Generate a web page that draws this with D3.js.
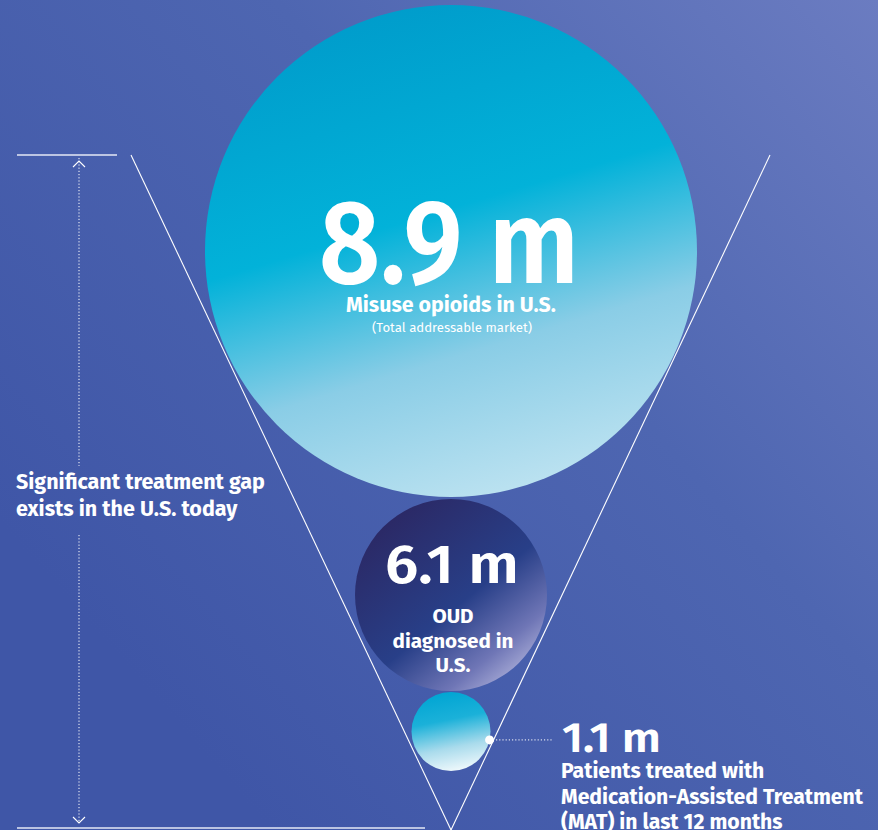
<!DOCTYPE html>
<html>
<head>
<meta charset="utf-8">
<script src="https://cdn.jsdelivr.net/npm/d3@7"></script>
<style>
  body { margin: 0; background: #4259a8; }
  svg { display: block; }
  text { font-family: "Fira Sans", "Noto Sans", sans-serif; fill: #fff; }
</style>
</head>
<body>
<div id="chart-area"></div>
<script>
// funnel data
var values = [8.9, 6.1, 1.1];
var valueLabels = ["8.9 m", "6.1 m", "1.1 m"];
var descriptions = [
    ["Misuse opioids in U.S."],
    ["OUD", "diagnosed in", "U.S."],
    ["Patients treated with", "Medication-Assisted Treatment", "(MAT) in last 12 months"]
];
var notes = ["(Total addressable market)", "", ""];
var gapLabel = ["Significant treatment gap", "exists in the U.S. today"];

var width = 878, height = 830;
var cx = 451;

var svg = d3.select("#chart-area")
    .append("svg")
    .attr("width", width)
    .attr("height", height);

var defs = svg.append("defs");

function gradient(id, x1, y1, x2, y2, stops) {
    var g = defs.append("linearGradient")
        .attr("id", id)
        .attr("x1", x1).attr("y1", y1)
        .attr("x2", x2).attr("y2", y2);
    stops.forEach(function(s) {
        g.append("stop").attr("offset", s[0]).attr("stop-color", s[1]);
    });
}

gradient("bg", 1, 0, 0.1, 0.75, [[0, "#6b7cc1"], [0.45, "#4e66b1"], [1, "#3f56a7"]]);
gradient("c0", 0.35, 0, 0.65, 1, [[0, "#009ccb"], [0.42, "#02b2d9"], [0.7, "#8acde6"], [1, "#bee3f1"]]);
gradient("c1", 0.25, 0.05, 0.95, 0.9, [[0, "#2b2966"], [0.52, "#283f88"], [0.8, "#6f76b6"], [1, "#b9bbe0"]]);
gradient("c2", 0.4, 0, 0.6, 1, [[0, "#00a5d3"], [0.35, "#1bb1d9"], [0.7, "#a9dbec"], [1, "#f0f9fc"]]);

svg.append("rect")
    .attr("width", width)
    .attr("height", height)
    .attr("fill", "url(#bg)");

// radius per value
var r = d3.scaleLinear()
    .domain([1.1, 6.1, 8.9])
    .range([39.5, 96, 246]);

// stack circles from the top
var yPos = 5, gaps = [0, 2, 1];
var circles = values.map(function(v, i) {
    yPos += gaps[i];
    var c = { value: v, r: r(v), cy: yPos + r(v), i: i };
    yPos += 2 * r(v);
    return c;
});

// funnel lines
var apex = [cx, height];
svg.append("g")
    .selectAll("line")
    .data([131, 770])
    .enter()
    .append("line")
    .attr("x1", d => d).attr("y1", 155)
    .attr("x2", apex[0]).attr("y2", apex[1])
    .attr("stroke", "#fff")
    .attr("stroke-width", 1.1);

svg.append("g")
    .selectAll("circle")
    .data(circles)
    .enter()
    .append("circle")
    .attr("cx", cx)
    .attr("cy", d => d.cy)
    .attr("r", d => d.r)
    .attr("fill", d => "url(#c" + d.i + ")");

// make the widest line of a block a given width
function fitBlock(sel, w) {
    var maxW = d3.max(sel.nodes(), n => n.getComputedTextLength());
    var fs = parseFloat(sel.attr("font-size"));
    sel.attr("font-size", fs * w / maxW);
}

// big circle
var c0 = circles[0];
svg.append("text")
    .attr("x", cx - 2).attr("y", c0.cy + 32)
    .attr("text-anchor", "middle")
    .attr("font-size", 118).attr("font-weight", 600)
    .attr("textLength", 260).attr("lengthAdjust", "spacingAndGlyphs")
    .text(valueLabels[0]);
var t0 = svg.append("text")
    .attr("x", cx).attr("y", c0.cy + 61)
    .attr("text-anchor", "middle")
    .attr("font-size", 20).attr("font-weight", 700)
    .text(descriptions[0][0]);
fitBlock(t0, 210);
var n0 = svg.append("text")
    .attr("x", cx + 1).attr("y", c0.cy + 81)
    .attr("text-anchor", "middle")
    .attr("font-size", 12).attr("font-weight", 400)
    .text(notes[0]);
fitBlock(n0, 160);

// middle circle
var c1 = circles[1];
svg.append("text")
    .attr("x", cx + 1).attr("y", c1.cy - 12)
    .attr("text-anchor", "middle")
    .attr("font-size", 54).attr("font-weight", 600)
    .attr("textLength", 134).attr("lengthAdjust", "spacingAndGlyphs")
    .text(valueLabels[1]);
var t1 = svg.append("g").selectAll("text")
    .data(descriptions[1])
    .enter()
    .append("text")
    .attr("x", cx + 2)
    .attr("y", (d, i) => c1.cy + 28 + i * 24.5)
    .attr("text-anchor", "middle")
    .attr("font-size", 19).attr("font-weight", 700)
    .text(d => d);
fitBlock(t1, 121);

// small circle with callout
var c2 = circles[2];
var ang = Math.atan2(8.5, 39);
var dot = [cx + c2.r * Math.cos(ang), c2.cy + c2.r * Math.sin(ang)];
svg.append("line")
    .attr("x1", dot[0]).attr("y1", dot[1])
    .attr("x2", 552).attr("y2", dot[1])
    .attr("stroke", "#fff")
    .attr("stroke-dasharray", "1.2,2")
    .attr("stroke-width", 1);
svg.append("circle")
    .attr("cx", dot[0]).attr("cy", dot[1])
    .attr("r", 4.5)
    .attr("fill", "#fff");

svg.append("text")
    .attr("x", 562).attr("y", 752)
    .attr("font-size", 41).attr("font-weight", 600)
    .attr("textLength", 99).attr("lengthAdjust", "spacingAndGlyphs")
    .text(valueLabels[2]);
var t2 = svg.append("g").selectAll("text")
    .data(descriptions[2])
    .enter()
    .append("text")
    .attr("x", 561)
    .attr("y", (d, i) => 778 + i * 25.5)
    .attr("font-size", 19).attr("font-weight", 700)
    .text(d => d);
fitBlock(t2, 302);

// treatment gap marker
var gap = svg.append("g");
gap.selectAll("line.rule")
    .data([[17, 117, 155], [17, 425, 828]])
    .enter()
    .append("line")
    .attr("class", "rule")
    .attr("x1", d => d[0]).attr("x2", d => d[1])
    .attr("y1", d => d[2]).attr("y2", d => d[2])
    .attr("stroke", "#e4e9f6")
    .attr("stroke-width", 1.6);

gap.selectAll("line.dots")
    .data([[158, 466], [535, 823]])
    .enter()
    .append("line")
    .attr("class", "dots")
    .attr("x1", 79).attr("x2", 79)
    .attr("y1", d => d[0]).attr("y2", d => d[1])
    .attr("stroke", "#fff")
    .attr("stroke-dasharray", "1.2,2")
    .attr("stroke-width", 1);

gap.selectAll("path")
    .data([[[73, 167], [79, 161], [85, 167]], [[73, 817], [79, 823], [85, 817]]])
    .enter()
    .append("path")
    .attr("d", d3.line())
    .attr("fill", "none")
    .attr("stroke", "#fff")
    .attr("stroke-width", 1.1);

var gl = gap.selectAll("text")
    .data(gapLabel)
    .enter()
    .append("text")
    .attr("x", 16)
    .attr("y", (d, i) => 489 + i * 27)
    .attr("font-size", 20).attr("font-weight", 700)
    .text(d => d);
fitBlock(gl, 249);
</script>
</body>
</html>
